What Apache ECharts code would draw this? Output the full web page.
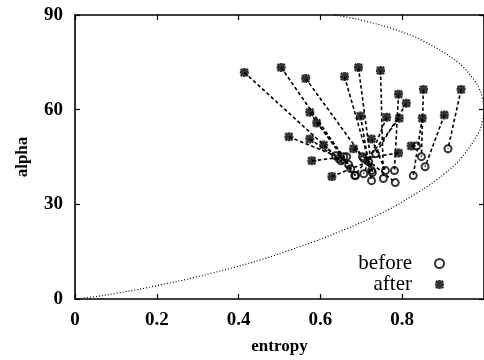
<!DOCTYPE html>
<html>
<head>
<meta charset="utf-8">
<script src="https://cdn.jsdelivr.net/npm/echarts@6/dist/echarts.min.js"></script>
<style>html,body{margin:0;padding:0;background:#fff;}#c{width:484px;height:360px;}</style>
</head>
<body>
<div id="c"></div>
<script>
// Data
var xTicks = [0, 0.2, 0.4, 0.6, 0.8];
var yTicks = [0, 30, 60, 90];

// "before" (circles)
var beforeX = [0.645, 0.669, 0.703, 0.674, 0.657, 0.637, 0.650, 0.664, 0.718, 0.686, 0.725, 0.727, 0.754, 0.781, 0.735, 0.847, 0.912, 0.725, 0.706, 0.684, 0.827, 0.856, 0.759, 0.783, 0.835, 0.706];
var beforeY = [44.5, 42.6, 45.1, 41.3, 45.1, 45.4, 43.8, 45.1, 43.5, 39.1, 40.7, 40.1, 38.2, 40.7, 46.0, 45.1, 47.6, 37.5, 39.7, 39.1, 39.1, 41.9, 40.7, 36.9, 48.5, 44.5];
// "after" (asterisks)
var afterX = [0.414, 0.504, 0.564, 0.574, 0.591, 0.523, 0.574, 0.579, 0.628, 0.608, 0.659, 0.693, 0.747, 0.791, 0.810, 0.852, 0.944, 0.698, 0.762, 0.793, 0.849, 0.903, 0.725, 0.681, 0.822, 0.791];
var afterY = [71.8, 73.4, 69.9, 59.2, 55.8, 51.4, 50.7, 43.8, 38.8, 48.8, 70.5, 73.4, 72.4, 64.9, 62.0, 66.4, 66.4, 58.0, 57.6, 57.3, 57.3, 58.3, 50.7, 47.6, 48.5, 46.3];

// boundary curve of the feasible region (dotted)
var curveH = [0, 0.057, 0.100, 0.173, 0.335, 0.515, 0.725, 0.839, 0.906, 0.946, 0.986, 0.997, 1.0, 0.995, 0.988, 0.977, 0.936, 0.851, 0.775, 0.706, 0.675, 0.631];
var curveA = [0, 0.9, 1.8, 3.5, 8.2, 15.0, 25.7, 33.8, 40.0, 45.0, 52.5, 56.7, 60.0, 64.3, 66.7, 69.2, 75.0, 81.8, 85.7, 88.2, 89.1, 90.0];

var labelFont = {fontFamily: 'Liberation Serif', fontWeight: 'bold', fontSize: 19, color: '#000'};
var nameFont = {fontFamily: 'Liberation Serif', fontWeight: 'bold', fontSize: 17, color: '#000'};
var axisLine = {show: true, onZero: false, lineStyle: {color: '#000', width: 1.6}};
var tickIn = {show: true, inside: true, length: 5, lineStyle: {color: '#000', width: 1.2}};

var asterisk = 'path://M0 3.5 L10 3.5 L10 6.5 L0 6.5 Z M3.5 0 L6.5 0 L6.5 10 L3.5 10 Z M0 2 L2 0 L10 8 L8 10 Z M8 0 L10 2 L2 10 L0 8 Z';

function zip(a, b) { return a.map(function (v, i) { return [v, b[i]]; }); }

var chart = echarts.init(document.getElementById('c'), null, {renderer: 'canvas'});
chart.setOption({
  animation: false,
  backgroundColor: '#fff',
  grid: {left: 75, right: -2, top: 15, bottom: 58.5, containLabel: false},
  legend: {
    orient: 'vertical', align: 'right', right: 39, top: 253, padding: 0, itemGap: 0,
    itemWidth: 9, itemHeight: 9,
    data: ['before', 'after'],
    textStyle: {fontFamily: 'Liberation Serif', fontSize: 21, color: '#000', lineHeight: 20, padding: [0, 18, 0, 0]}
  },
  xAxis: [{
    type: 'value', min: 0, max: 1, interval: 0.2, position: 'bottom',
    name: 'entropy', nameLocation: 'middle', nameGap: 39, nameTextStyle: nameFont,
    axisLine: axisLine, axisTick: tickIn, splitLine: {show: false},
    axisLabel: {margin: 12, showMaxLabel: false, textStyle: labelFont,
      formatter: function (v) { return xTicks.indexOf(Math.round(v * 10) / 10) >= 0 ? String(Math.round(v * 10) / 10) : ''; }}
  }, {
    type: 'value', min: 0, max: 1, interval: 0.2, position: 'top',
    axisLine: axisLine, axisTick: tickIn, splitLine: {show: false}, axisLabel: {show: false}
  }],
  yAxis: [{
    type: 'value', min: 0, max: 90, interval: 30, position: 'left',
    name: 'alpha', nameLocation: 'middle', nameGap: 44, nameRotate: 90, nameTextStyle: nameFont,
    axisLine: axisLine, axisTick: tickIn, splitLine: {show: false},
    axisLabel: {margin: 12, textStyle: labelFont,
      formatter: function (v) { return yTicks.indexOf(v) >= 0 ? String(v) : ''; }}
  }, {
    type: 'value', min: 0, max: 90, interval: 30, position: 'right',
    axisLine: axisLine, axisTick: tickIn, splitLine: {show: false}, axisLabel: {show: false}
  }],
  series: [{
    name: 'boundary', type: 'line', data: zip(curveH, curveA), smooth: 0.4,
    showSymbol: false, symbol: 'none', silent: true, z: 1,
    lineStyle: {color: '#000', width: 1.2, type: [1, 2]}
  }, {
    name: 'moves', type: 'lines', coordinateSystem: 'cartesian2d', silent: true, z: 2,
    lineStyle: {color: '#000', width: 1.6, type: [3.5, 2.5], opacity: 1},
    data: afterX.map(function (v, i) { return {coords: [[afterX[i], afterY[i]], [beforeX[i], beforeY[i]]]}; })
  }, {
    name: 'before', type: 'scatter', data: zip(beforeX, beforeY), symbol: 'circle', symbolSize: 7, z: 3,
    itemStyle: {color: 'rgba(255,255,255,0)', borderColor: '#000', borderWidth: 2}
  }, {
    name: 'after', type: 'scatter', data: zip(afterX, afterY), symbol: asterisk, symbolSize: 9, z: 4,
    itemStyle: {color: '#000'}
  }]
});
</script>
</body>
</html>
